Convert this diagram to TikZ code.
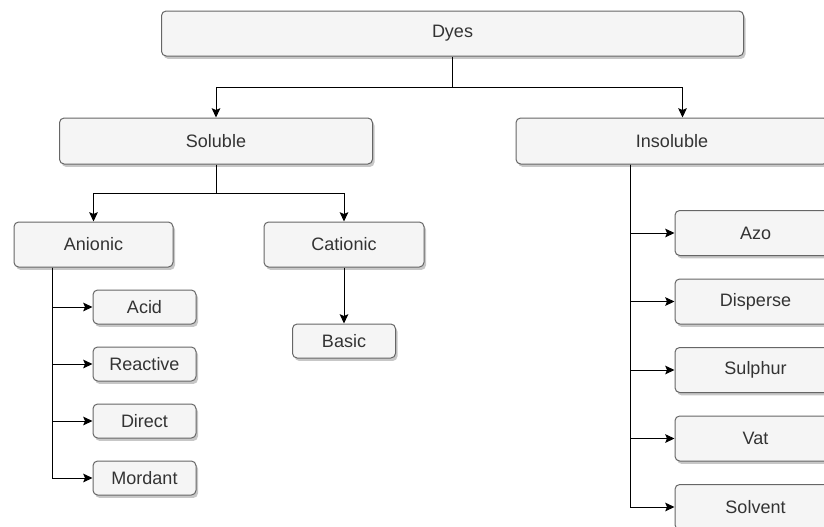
\documentclass[tikz,border=0pt]{standalone}
\usepackage{fontspec}
\setmainfont{Liberation Sans}
\usetikzlibrary{arrows.meta,shadows,calc}
\definecolor{boxfill}{HTML}{F5F5F5}
\definecolor{boxline}{HTML}{666666}
\definecolor{txt}{HTML}{333333}
\begin{document}
\begin{tikzpicture}[x=0.75pt,y=-0.75pt,
  box/.style={draw=boxline,fill=boxfill,rounded corners=3.5pt,line width=0.75pt,
    inner sep=0pt,text=txt,font=\fontsize{13.5}{16}\selectfont,
    drop shadow={shadow xshift=1.5pt,shadow yshift=-2.2pt,fill=black,opacity=0.22}},
  conn/.style={draw=black,line width=0.75pt},
  arr/.style={conn,-{Stealth[length=7pt,width=6.5pt,inset=1.4pt]}}]
\useasboundingbox (0,0) rectangle (824,526);
\clip (0,0) rectangle (824,526);
\fill[white] (0,0) rectangle (824,526);
% top levels
\node[box,minimum width=436.5pt,minimum height=33.75pt] (dyes) at (452.5,33.5) {Dyes};
\node[box,minimum width=234.75pt,minimum height=34.5pt] (sol) at (216,141) {Soluble};
\node[box,minimum width=234pt,minimum height=34.5pt] (insol) at (672,141) {Insoluble};
\node[box,minimum width=119.25pt,minimum height=33.75pt] (anionic) at (93.5,244.5) {Anionic};
\node[box,minimum width=120pt,minimum height=33.75pt] (cationic) at (344,244.5) {Cationic};
% anionic children
\node[box,minimum width=77.25pt,minimum height=25.5pt] (acid) at (144.5,307) {Acid};
\node[box,minimum width=77.25pt,minimum height=25.5pt] (reactive) at (144.5,364) {Reactive};
\node[box,minimum width=77.25pt,minimum height=25.5pt] (direct) at (144.5,421) {Direct};
\node[box,minimum width=77.25pt,minimum height=25.5pt] (mordant) at (144.5,478) {Mordant};
% cationic child
\node[box,minimum width=77.25pt,minimum height=25.5pt] (basic) at (344,341) {Basic};
% insoluble children
\node[box,minimum width=120.75pt,minimum height=33.75pt] (azo) at (755.5,233) {Azo};
\node[box,minimum width=120.75pt,minimum height=33.75pt] (disperse) at (755.5,301.5) {Disperse};
\node[box,minimum width=120.75pt,minimum height=33.75pt] (sulphur) at (755.5,370) {Sulphur};
\node[box,minimum width=120.75pt,minimum height=33.75pt] (vat) at (755.5,438.5) {Vat};
\node[box,minimum width=120.75pt,minimum height=33.75pt] (solvent) at (755.5,507) {Solvent};
% junctions
\coordinate (j1) at ($(dyes.south)+(0,31)$);
\coordinate (insolIn) at ($(insol.north west)+(167,0)$);
\coordinate (j2) at ($(sol.south)+(0,29)$);
\coordinate (aStart) at ($(anionic.south west)+(39,0)$);
\coordinate (iStart) at ($(insol.south west)+(115,0)$);
% connectors
\draw[conn] (dyes.south) -- (j1);
\draw[arr] (j1) -| (sol.north);
\draw[arr] (j1) -| (insolIn);
\draw[conn] (sol.south) -- (j2);
\draw[arr] (j2) -| (anionic.north);
\draw[arr] (j2) -| (cationic.north);
\draw[arr] (cationic.south) -- (basic.north);
\foreach \t in {acid,reactive,direct,mordant}{
  \draw[arr] (aStart) |- (\t.west);
}
\foreach \t in {azo,disperse,sulphur,vat,solvent}{
  \draw[arr] (iStart) |- (\t.west);
}
\end{tikzpicture}
\end{document}
